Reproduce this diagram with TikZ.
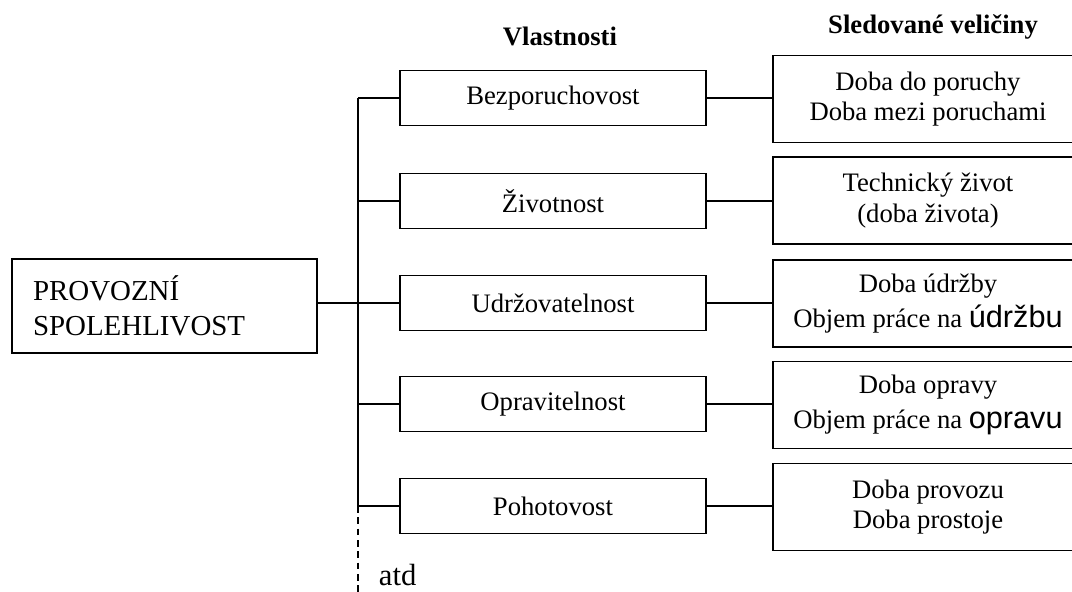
\documentclass[tikz,border=0pt]{standalone}
\usepackage{fontspec}
\setmainfont{Liberation Serif}
\newfontfamily\bigsans{Liberation Sans}
\newcommand{\bs}[1]{{\bigsans\fontsize{23}{26}\selectfont #1}}
\begin{document}
\begin{tikzpicture}[x=0.75pt,y=-0.75pt,line width=1.4pt,
  every node/.style={font=\fontsize{20}{23}\selectfont},
  rootbox/.style={draw,minimum width=228.75pt,minimum height=70.5pt,
    text width=197.25pt,inner xsep=15.75pt,align=left,
    font=\fontsize{21.7}{26}\selectfont},
  prop/.style={draw,minimum width=229.5pt,minimum height=41.25pt,inner sep=0pt},
  quant/.style={draw,minimum width=232.5pt,minimum height=65.25pt,align=center,inner sep=0pt},
  head/.style={font=\fontsize{20}{23}\selectfont\bfseries,anchor=base},
  link/.style={line width=1.4pt},
  etc/.style={line width=1.4pt,dash pattern=on 5pt off 3.5pt}]
\useasboundingbox (0,0) rectangle (1072,592);
\clip (0,0) rectangle (1072,592);

% column headings
\node[head] (hprop) at (560,46) {Vlastnosti};
\node[head] (hquant) at (933,34) {Sledované veličiny};

% root
\node[rootbox] (root) at (164.5,306) {PROVOZNÍ\\SPOLEHLIVOST};

% properties
\node[prop] (p1) at (553,98)  {Bezporuchovost};
\node[prop] (p2) at (553,201) {Životnost};
\node[prop] (p3) at (553,303) {Udržovatelnost};
\node[prop] (p4) at (553,404) {Opravitelnost};
\node[prop] (p5) at (553,506) {Pohotovost};

% observed quantities
\node[quant] (q1) at (928,99)    {Doba do poruchy\\Doba mezi poruchami};
\node[quant] (q2) at (928,200.5) {Technický život\\(doba života)};
\node[quant] (q3) at (928,303.5) {Doba údržby\\[3pt]Objem práce na \bs{údržbu}};
\node[quant] (q4) at (928,405)   {Doba opravy\\[3pt]Objem práce na \bs{opravu}};
\node[quant] (q5) at (928,507)   {Doba provozu\\Doba prostoje};

% trunk
\coordinate (trunk) at (358,0);
\coordinate (tend) at (358,600);
\draw[link] (p1.west -| trunk) -- (p5.west -| trunk);
\draw[etc] (p5.west -| trunk) -- (tend);
\node[anchor=base west,font=\fontsize{23}{26}\selectfont,inner sep=0pt] (etc) at (378,585) {atd};

% root to trunk
\draw[link] (root.east |- p3.west) -- (p3.west);

% branches
\foreach \i in {1,...,5}{
  \draw[link] (p\i.west -| trunk) -- (p\i.west);
  \draw[link] (p\i.east) -- (q\i.west |- p\i.east);
}
\end{tikzpicture}
\end{document}
